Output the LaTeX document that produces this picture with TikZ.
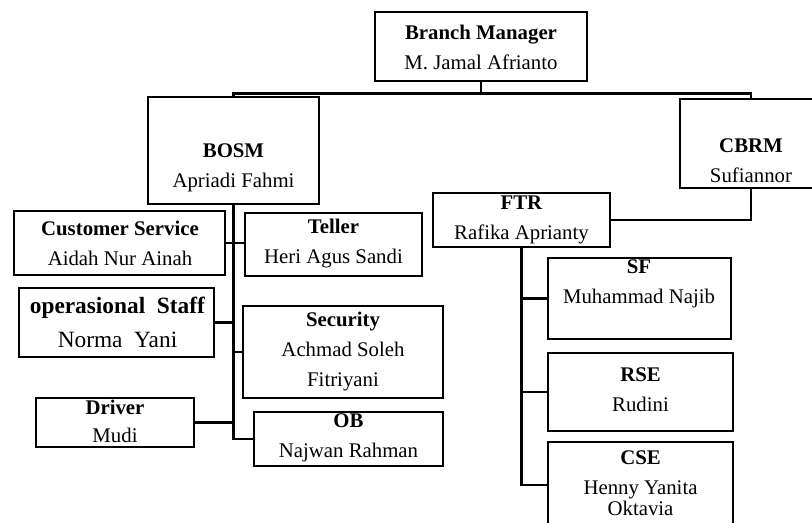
\documentclass[tikz,border=0pt]{standalone}
\usepackage{fontspec}
\setmainfont{Liberation Serif}
\usetikzlibrary{fit}

\tikzset{
  box/.style={draw, line width=2.1pt, inner sep=0pt},
  conn/.style={line width=2.1pt},
  txt/.style={align=center, inner sep=0pt, font=\fontsize{15.6}{22.5}\selectfont}
}

\begin{document}
\begin{tikzpicture}[x=0.75pt,y=0.75pt,yscale=-1,xscale=1]
\useasboundingbox (0,0) rectangle (812,522);
\clip (0,0) rectangle (812,522);

%Box: Branch Manager
\node[box, fit={(375,12) (587,81)}] (bm) {};
%Box: BOSM
\node[box, fit={(148,97) (319,204)}] (bosm) {};
%Box: CBRM
\node[box, fit={(680,99) (822,188)}] (cbrm) {};
%Box: FTR
\node[box, fit={(433,193) (610,247)}] (ftr) {};
%Box: Customer Service
\node[box, fit={(14,211) (225,275)}] (cs) {};
%Box: Teller
\node[box, fit={(245,213) (422,276)}] (teller) {};
%Box: operasional Staff
\node[box, fit={(19,288) (214,357)}] (opstaff) {};
%Box: Security
\node[box, fit={(243,306) (443,398)}] (security) {};
%Box: Driver
\node[box, fit={(36,398) (194,447)}] (driver) {};
%Box: OB
\node[box, fit={(254,412) (443,466)}] (ob) {};
%Box: SF
\node[box, fit={(548,258) (731,339)}] (sf) {};
%Box: RSE
\node[box, fit={(548,353) (733,431)}] (rse) {};
%Box: CSE
\node[box, fit={(548,442) (733,528)}] (cse) {};

%Lines
\draw[conn] (bm.south) -- ++(0,11) -| (bosm.north);
\draw[conn] (bm.south) -- ++(0,11) -| (cbrm.north);
\draw[conn] (cbrm.south) |- (ftr.east);
\draw[conn] (ftr.south) |- (sf.west);
\draw[conn] (ftr.south) |- (rse.west);
\draw[conn] (ftr.south) |- (cse.west);
\draw[conn] (bosm.south) |- (ob.west);
\draw[conn] (cs.east) -- (cs.east -| teller.west);
\draw[conn] (opstaff.east) -- (opstaff.east -| bosm.south);
\draw[conn] (security.west) -- (security.west -| bosm.south);
\draw[conn] (driver.east) -- (driver.east -| bosm.south);

% Text Node
\node[txt] (bmT) at (481,47) {\textbf{Branch Manager}\\M. Jamal Afrianto};
% Text Node
\node[txt] (bosmT) at (233.5,168) {\textbf{BOSM}\\Apriadi Fahmi};
% Text Node
\node[txt] (cbrmT) at (751,161) {\textbf{CBRM}\\Sufiannor};
% Text Node
\node[txt] (ftrT) at (521.5,219.5) {\textbf{FTR}\\Rafika Aprianty};
% Text Node
\node[txt] (csT) at (120,243.5) {\textbf{Customer Service}\\Aidah Nur Ainah};
% Text Node
\node[txt] (tellerT) at (333.5,243.5) {\textbf{Teller}\\Heri Agus Sandi};
% Text Node
\node[txt, font=\fontsize{17.5}{26}\selectfont] (opstaffT) at (117.5,322.5) {\textbf{operasional~ Staff}\\Norma~ Yani};
% Text Node
\node[txt] (securityT) at (343,352) {\textbf{Security}\\Achmad Soleh\\Fitriyani};
% Text Node
\node[txt, font=\fontsize{15.6}{21}\selectfont] (driverT) at (115,421) {\textbf{Driver}\\Mudi};
% Text Node
\node[txt] (obT) at (348.5,437.5) {\textbf{OB}\\Najwan Rahman};
% Text Node
\node[txt] (sfT) at (639,283.5) {\textbf{SF}\\Muhammad Najib};
% Text Node
\node[txt] (rseT) at (640.5,390) {\textbf{RSE}\\Rudini};
% Text Node
\node[txt] (cseT) at (640.5,483.5) {\textbf{CSE}\\Henny Yanita\\[-6.75pt]Oktavia};

\end{tikzpicture}
\end{document}
